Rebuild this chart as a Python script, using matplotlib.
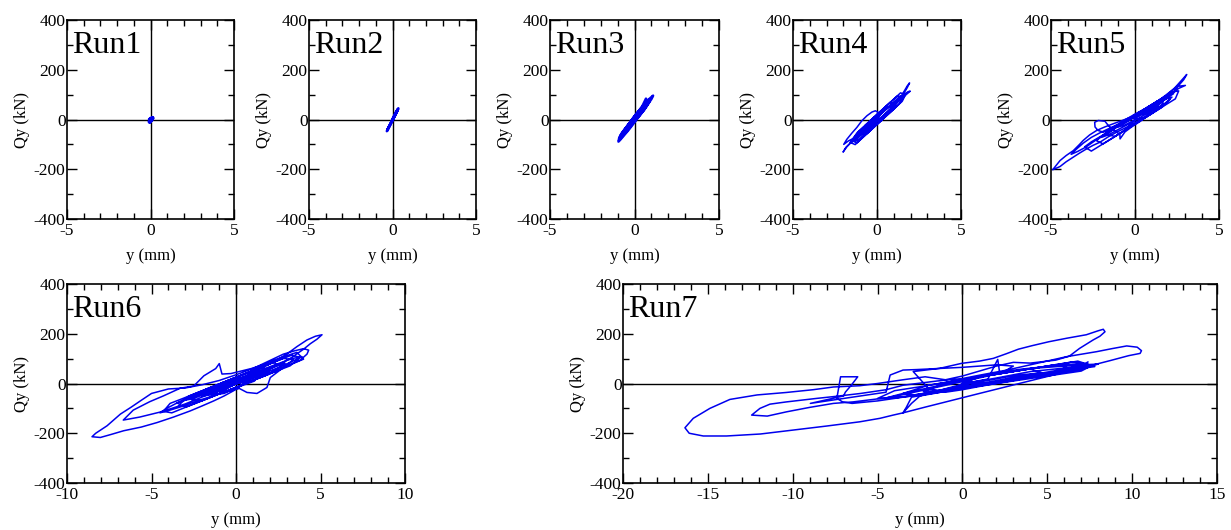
import numpy as np
import matplotlib.pyplot as plt
from matplotlib.ticker import MultipleLocator

plt.rcParams['font.family'] = ['Liberation Serif', 'DejaVu Serif']
plt.rcParams['axes.unicode_minus'] = False

# y (mm), Qy (kN) points
run1 = [(0, 0), (0.08, 4), (0.12, 6), (0.05, 0), (-0.03, -6), (-0.05, -9),
        (0, -3), (0.1, 5), (0.02, -2), (-0.04, -8), (0, 0)]

run2 = [(0, 2), (0.1, 16), (0.2, 30), (0.3, 40), (0.35, 45), (0.3, 36), (0.2, 22),
        (0.05, 2), (-0.1, -16), (-0.2, -28), (-0.3, -40), (-0.34, -47), (-0.3, -44),
        (-0.18, -28), (-0.05, -10), (0.1, 10), (0.22, 26), (0.33, 42), (0.28, 34),
        (0.12, 12), (-0.02, -4), (-0.15, -22), (-0.28, -38), (-0.32, -44), (-0.2, -26),
        (-0.05, -6), (0.08, 10), (0.2, 26), (0.3, 38), (0.25, 30), (0.1, 10), (0, 0)]

run3 = [(0, 5), (0.2, 8), (0.4, 25), (0.6, 42), (0.8, 62), (1.0, 82), (1.1, 96),
        (1.0, 90), (0.8, 78), (0.55, 58), (0.3, 38), (0.05, 18), (-0.2, -5),
        (-0.45, -28), (-0.7, -50), (-0.9, -72), (-0.95, -89), (-0.85, -82),
        (-0.6, -62), (-0.35, -42), (-0.1, -20), (0.1, -2), (0.35, 20), (0.6, 42),
        (0.75, 62), (0.68, 84), (0.45, 52), (0.2, 30), (-0.05, 8), (-0.3, -15),
        (-0.55, -38), (-0.8, -60), (-0.88, -78), (-0.7, -66), (-0.45, -46),
        (-0.2, -24), (0.0, -8), (0.25, 14), (0.5, 34), (0.7, 52), (0.9, 74),
        (0.85, 80), (0.6, 60), (0.35, 40), (0.1, 20), (-0.15, -2), (-0.4, -24),
        (-0.6, -42), (-0.75, -62), (-0.6, -55), (-0.35, -36), (-0.1, -14), (0.1, 2),
        (0.3, 20), (0.45, 36), (0.3, 30), (0.1, 14), (-0.1, -4), (-0.3, -22),
        (-0.5, -40), (-0.3, -30), (-0.05, -8), (0, 0)]

run4 = [(0, -5), (0.3, 8), (0.6, 25), (0.9, 45), (1.2, 70), (1.5, 100), (1.8, 135),
        (1.94, 147), (1.8, 128), (1.5, 94), (1.2, 74), (0.9, 62), (0.6, 45), (0.3, 28),
        (0.0, 10), (-0.3, -8), (-0.6, -28), (-0.9, -46), (-1.2, -68), (-1.5, -88),
        (-1.8, -110), (-2.02, -131), (-1.85, -112), (-1.6, -96), (-1.3, -80),
        (-1.0, -64), (-0.7, -48), (-0.4, -30), (-0.1, -12), (0.2, 5), (0.5, 22),
        (0.8, 40), (1.1, 60), (1.4, 80), (1.7, 98), (1.98, 114), (1.85, 112),
        (1.6, 100), (1.3, 84), (1.0, 66), (0.7, 50), (0.4, 32), (0.1, 14), (-0.2, -4),
        (-0.5, -22), (-0.8, -42), (-1.1, -60), (-1.4, -76), (-1.7, -86), (-1.98, -100),
        (-1.8, -80), (-1.5, -55), (-1.2, -32), (-0.9, -5), (-0.6, 15), (-0.3, 30),
        (-0.1, 35), (0.04, 30), (0.1, 2), (0.3, 12), (0.6, 30), (0.9, 50), (1.2, 72),
        (1.5, 96), (1.3, 90), (1.0, 70), (0.7, 52), (0.4, 34), (0.1, 14), (-0.2, -8),
        (-0.5, -28), (-0.8, -50), (-1.1, -72), (-1.3, -88), (-1.1, -82), (-0.8, -62),
        (-0.5, -42), (-0.2, -22), (0.1, -2), (0.4, 16), (0.7, 36), (1.0, 56),
        (1.3, 78), (1.1, 74), (0.8, 56), (0.5, 38), (0.2, 20), (-0.1, 0), (-0.4, -20),
        (-0.7, -40), (-0.9, -58), (-0.6, -46), (-0.3, -28), (0, -8),
        (0.5, 11), (1.0, 42), (1.5, 73), (1.7, 100), (1.4, 107), (0.9, 76), (0.4, 45),
        (-0.1, 14), (-0.6, -17), (-1.1, -48), (-1.5, -85), (-1.2, -94), (-0.7, -63),
        (-0.2, -32), (0.3, -1), (0.8, 30), (1.3, 61), (1.6, 92), (1.2, 94), (0.7, 63),
        (0.2, 32), (-0.3, 1), (-0.8, -30), (-1.2, -55), (-1.6, -92), (-1.3, -101),
        (-0.9, -76), (-0.4, -45), (0.1, -14), (0.6, 17), (1.1, 48), (0.8, 70),
        (0.3, 39), (-0.2, 8), (-0.7, -23), (-1.0, -60), (-0.6, -57), (-0.1, -26),
        (0.4, 5), (0.9, 48), (0.5, 51), (0, 20), (-0.5, -28), (-0.2, -32), (0, 0)]

run5 = [(0, 2), (0.3, 18), (0.8, 42), (1.3, 66), (1.8, 92), (2.3, 122), (2.7, 152),
        (3.08, 181), (2.9, 160), (2.68, 143), (2.28, 110), (1.88, 90), (1.29, 50),
        (0.69, 16), (0.2, -5), (-0.3, -24), (-0.7, -38), (-1.09, -51), (-1.6, -70),
        (-2.08, -91), (-2.5, -104), (-2.88, -118), (-3.3, -135), (-3.67, -151),
        (-4.1, -170), (-4.46, -189), (-4.9, -202), (-4.7, -185), (-4.46, -165),
        (-4.1, -145), (-3.67, -125), (-3.3, -100), (-3.08, -84), (-2.7, -62),
        (-2.28, -44), (-1.8, -30), (-1.29, -17), (-0.8, -5), (-0.3, 8), (0.2, 14),
        (0.7, 28), (1.2, 50), (1.7, 78), (2.2, 105), (2.6, 125), (3.0, 137),
        (2.48, 133), (2.1, 112), (1.6, 86), (1.1, 62), (0.6, 40), (0.1, 18),
        (-0.4, -2), (-0.9, -22), (-1.4, -42), (-1.9, -64), (-2.4, -86), (-2.9, -110),
        (-3.4, -128), (-3.8, -140), (-3.5, -120), (-3.08, -95), (-2.6, -72),
        (-2.1, -54), (-1.6, -38), (-1.1, -22), (-0.6, -6), (-0.1, 10), (0.4, 26),
        (0.9, 44), (1.4, 64), (1.9, 86), (2.3, 104), (2.0, 100), (1.5, 80), (1.0, 60),
        (0.5, 40), (0.0, 22), (-0.5, 2), (-1.0, -20), (-1.5, -40), (-1.88, -51),
        (-2.2, -44), (-2.38, -30), (-2.4, -11), (-2.18, -4), (-1.79, -7),
        (-1.59, -24), (-1.3, -40), (-0.9, -60), (-0.89, -78), (-0.6, -50),
        (-0.2, -30), (0.3, -8), (0.8, 16), (1.3, 40), (1.8, 66), (2.2, 90),
        (1.9, 84), (1.4, 64), (0.9, 44), (0.4, 26), (-0.1, 8), (-0.6, -12),
        (-1.1, -32), (-1.6, -54), (-2.0, -72), (-1.6, -62), (-1.1, -44), (-0.6, -26),
        (-0.1, -8), (0.4, 12), (0.9, 32), (1.4, 52), (1.0, 46), (0.5, 28), (0, 10),
        (-0.5, -10), (-1.0, -30), (-0.6, -22), (-0.2, -8), (0, 0),
        (0.6, 7), (1.2, 32), (1.8, 58), (2.4, 83), (2.6, 115), (2.2, 110), (1.6, 85),
        (1.0, 60), (0.4, 35), (-0.2, 10), (-0.8, -16), (-1.4, -41), (-2.0, -66),
        (-2.6, -90), (-3.0, -110), (-2.6, -127), (-2.0, -102), (-1.4, -77),
        (-0.8, -52), (-0.2, -26), (0.4, -1), (1.0, 24), (1.6, 49), (2.1, 82),
        (1.8, 94), (1.2, 68), (0.6, 43), (0, 18), (-0.6, -7), (-1.2, -32),
        (-1.8, -58), (-2.3, -85), (-1.9, -98), (-1.3, -73), (-0.7, -47), (-0.1, -22),
        (0.5, 3), (1.1, 28), (1.7, 66), (1.3, 73), (0.7, 47), (0.1, 22), (-0.5, -3),
        (-1.1, -28), (-1.7, -60), (-1.2, -68), (-0.6, -43), (0, 0)]

run6 = [(0, 0), (0.8, 40), (1.5, 62), (2.2, 85), (3.0, 118), (3.6, 148), (4.2, 175),
        (4.7, 190), (5.09, 196), (4.79, 178), (4.4, 160), (4.0, 138), (3.3, 105),
        (2.62, 78), (1.9, 55), (1.24, 38), (0.6, 5), (-0.14, -29), (-0.7, -50),
        (-1.32, -70), (-2.0, -90), (-2.7, -110), (-3.7, -135), (-4.67, -157),
        (-5.6, -175), (-6.65, -190), (-7.4, -205), (-8.03, -217), (-8.52, -214),
        (-8.3, -200), (-7.63, -170), (-6.84, -123), (-6.2, -95), (-5.66, -70),
        (-5.0, -40), (-4.0, -22), (-3.0, -18), (-2.0, -5), (-1.0, 12), (0.0, 35),
        (1.0, 60), (2.0, 92), (2.8, 118), (3.5, 132), (4.0, 140), (4.3, 134),
        (4.2, 118), (3.8, 94), (3.2, 76), (2.5, 56), (1.8, 38), (1.0, 20), (0.3, 5),
        (-0.5, -15), (-1.3, -35), (-2.2, -60), (-3.0, -82), (-3.8, -100),
        (-4.5, -115), (-5.1, -125), (-5.7, -135), (-6.67, -147), (-6.08, -107),
        (-5.1, -73), (-4.3, -50), (-3.3, -19), (-2.5, -10), (-1.9, 31), (-1.2, 60),
        (-0.99, 80), (-0.83, 38), (-0.3, 40), (0.3, 50), (0.9, 60), (1.6, 75),
        (2.3, 95), (3.0, 112), (3.6, 125), (4.0, 98), (3.5, 84), (2.8, 64),
        (2.03, 24), (1.83, -16), (1.24, -40), (0.65, -36), (0.2, -20), (-0.4, -30),
        (-1.0, -42), (-1.6, -55), (-2.3, -70), (-3.0, -88), (-3.8, -105),
        (-4.5, -118), (-4.1, -100), (-3.4, -75), (-2.6, -50), (-1.8, -30),
        (-1.0, -10), (-0.2, 10), (0.6, 28), (1.4, 45), (2.2, 65), (2.9, 82),
        (2.4, 75), (1.7, 55), (0.9, 35), (0.1, 15), (-0.7, -5), (-1.5, -25),
        (-2.3, -45), (-3.1, -68), (-2.6, -62), (-1.8, -42), (-1.0, -25), (-0.3, -8),
        (0.5, 12), (1.2, 28), (1.9, 45), (1.5, 42), (0.8, 25), (0.0, 8), (-0.8, -12),
        (-1.6, -32), (-2.4, -50), (-3.5, -80), (-2.8, -60), (-2.0, -38), (-1.2, -15),
        (-0.5, 5), (0.3, 25), (1.0, 42), (1.7, 60), (2.5, 80), (3.3, 100), (3.9, 108),
        (3.3, 88), (2.6, 66), (1.8, 46), (1.0, 28), (0.2, 10), (-0.6, -10),
        (-1.4, -32), (-2.0, -50), (-1.4, -45), (-0.7, -40), (-0.1, -20), (0.5, -5),
        (1.1, 10), (0.6, 12), (0.0, -2), (-0.6, -18), (-1.2, -35), (-0.8, -28),
        (-0.3, -12), (0, 0),
        (0.8, 7), (1.6, 28), (2.4, 50), (3.2, 71), (3.8, 105), (3.3, 114), (2.5, 93),
        (1.7, 71), (0.9, 49), (0.1, 28), (-0.7, 6), (-1.5, -16), (-2.3, -37),
        (-3.1, -59), (-3.9, -80), (-4.3, -112), (-3.8, -118), (-3.0, -96),
        (-2.2, -74), (-1.4, -53), (-0.6, -31), (0.2, -10), (1.0, 12), (1.8, 34),
        (2.6, 55), (3.4, 95), (2.8, 101), (2.0, 79), (1.2, 57), (0.4, 36), (-0.4, 14),
        (-1.2, -7), (-2.0, -29), (-2.8, -51), (-3.4, -88), (-2.9, -93), (-2.1, -72),
        (-1.3, -50), (-0.5, -29), (0.3, -7), (1.1, 15), (1.9, 36), (2.7, 72),
        (2.2, 84), (1.4, 63), (0.6, 41), (-0.2, 20), (-1.0, -2), (-1.8, -24),
        (-2.6, -66), (-2.0, -69), (-1.2, -47), (-0.4, -26), (0.4, -4), (1.2, 17),
        (2.0, 52), (1.5, 66), (0.7, 44), (-0.1, 22), (-0.9, 1), (-1.7, -42),
        (-1.0, -40), (-0.3, -10), (0, 0)]

run7 = [(0, 0), (1.0, 10), (2.0, 22), (3.0, 35), (4.0, 48), (5.0, 55), (6.0, 62),
        (7.0, 70), (7.4, 87), (7.2, 68), (6.0, 55), (5.0, 40), (4.0, 28), (3.0, 15),
        (2.0, 5), (1.0, -8), (0, -20), (-1.0, -32), (-2.0, -42), (-3.0, -55),
        (-3.3, -95), (-3.5, -118), (-3.0, -80), (-2.5, -50), (-1.5, -30), (-0.5, -12),
        (0.5, 5), (1.5, 18), (2.08, 97), (2.2, 40), (3.0, 50), (4.0, 60), (5.0, 65),
        (6.0, 70), (7.0, 75), (8.0, 78), (7.0, 60), (6.0, 50), (5.0, 38), (4.0, 25),
        (3.0, 12), (2.0, 0), (1.0, -12), (0.0, -25), (-1.0, -35), (-2.0, -20),
        (-2.9, 48), (-1.33, 61), (-0.05, 81), (1.0, 90), (1.82, 101), (2.6, 120),
        (3.3, 138), (4.1, 152), (5.1, 168), (6.15, 182), (7.3, 196), (8.0, 212),
        (8.3, 218), (8.4, 208), (8.1, 190), (7.7, 175), (6.9, 141), (6.3, 110),
        (5.5, 94), (4.0, 82), (3.0, 85), (2.0, 70), (1.0, 50), (0.0, 30), (-1.0, 15),
        (-2.2, 27), (-3.5, 15), (-5.0, 0), (-6.05, -9), (-7.6, -14), (-8.8, -25),
        (-10.37, -36), (-12.1, -46), (-13.7, -64), (-14.88, -100), (-15.86, -140),
        (-16.35, -178), (-16.1, -200), (-15.27, -211), (-13.9, -211), (-11.9, -203),
        (-9.96, -187), (-8.0, -171), (-6.05, -154), (-4.86, -140), (-4.08, -127),
        (-3.5, -118), (-2.2, -95), (-0.93, -73), (1.0, -40), (3.0, -6), (5.0, 28),
        (6.93, 61), (8.7, 92), (9.8, 112), (10.47, 121), (10.55, 132), (10.3, 146),
        (9.68, 151), (8.8, 140), (7.91, 128), (6.15, 108), (4.39, 81), (2.62, 54),
        (1.05, 34), (0, 20), (-1.5, 10), (-3.5, -7), (-4.5, -25), (-6.0, -40),
        (-7.5, -52), (-8.6, -60), (-10.37, -74), (-11.34, -83), (-11.93, -100),
        (-12.42, -127), (-11.5, -131), (-10.37, -114), (-9.0, -96), (-7.6, -80),
        (-6.45, -74), (-4.77, -60), (-3.0, -51), (-1.5, -35), (0, -15), (1.5, 0),
        (3.0, 15), (4.5, 30), (6.0, 45), (7.0, 55), (7.5, 68), (7.0, 50), (5.5, 35),
        (4.0, 20), (2.5, 5), (1.0, -10), (-0.5, -25), (-2.0, -40), (-3.5, -55),
        (-5.0, -70), (-6.5, -80), (-7.06, -74), (-7.4, -60), (-7.3, -20),
        (-7.18, 27), (-6.17, 27), (-6.55, -7), (-6.9, -35), (-7.0, -50),
        (-8.96, -80), (-7.5, -65), (-6.0, -50), (-4.5, -35), (-4.26, 34), (-3.5, 54),
        (-2.7, 56), (-1.5, 60), (0, 65), (1.0, 70), (2.0, 75), (3.0, 70), (2.5, 50),
        (1.5, 30), (0.5, 15), (-0.5, 0), (-1.5, -15), (-2.5, -30), (-3.5, -45),
        (-4.5, -58), (-3.5, -40), (-2.5, -25), (-1.5, -10), (-0.5, 5), (0.5, 20),
        (1.5, 35), (2.5, 48), (3.5, 58), (4.5, 65), (5.5, 72), (6.5, 78), (7.2, 80),
        (6.5, 65), (5.5, 52), (4.5, 40), (3.5, 28), (2.5, 15), (1.5, 2), (0.5, -12),
        (-0.5, -25), (-1.5, -38), (-2.5, -50), (-1.5, -30), (-0.5, -15), (0.5, 0),
        (1.5, 12), (2.5, 25), (3.5, 35), (4.5, 42), (3.5, 30), (2.5, 18), (1.5, 5),
        (0.5, -8), (-0.5, -18), (0, 0),
        (1.5, 2), (3.0, 18), (4.5, 35), (6.0, 51), (7.5, 75), (6.5, 87), (5.0, 70),
        (3.5, 54), (2.0, 37), (0.5, 21), (-1.0, 4), (-2.5, -13), (-4.0, -29),
        (-5.0, -60), (-4.0, -59), (-2.5, -42), (-1.0, -26), (0.5, -9), (2.0, 7),
        (3.5, 24), (5.0, 40), (6.5, 58), (5.5, 76), (4.0, 59), (2.5, 43), (1.0, 26),
        (-0.5, 10), (-2.0, -7), (-3.5, -40), (-2.8, -46), (-1.3, -29), (0.2, -13),
        (1.7, 4), (3.2, 20), (4.7, 37), (6.2, 53), (7.8, 68), (6.8, 90), (5.2, 72),
        (3.7, 56), (2.2, 39), (0.7, 23), (-0.8, 6), (-2.3, -32), (-1.0, -26),
        (0.5, -9), (2.0, 7), (3.5, 24), (5.0, 36), (4.0, 59), (2.5, 43), (1.0, 26),
        (0, 0)]

runs = [run1, run2, run3, run4, run5, run6, run7]
names = ['Run1', 'Run2', 'Run3', 'Run4', 'Run5', 'Run6', 'Run7']
xlims = [(-5, 5)] * 5 + [(-10, 10), (-20, 15)]

W, H = 1231, 530
# axes boxes in pixels: left, top, right, bottom
boxes = [(67, 20, 234, 219), (309, 20, 476, 219), (550, 20, 719, 219),
         (793, 20, 961, 219), (1051, 20, 1219, 219),
         (67, 284, 405, 483), (623, 284, 1217, 483)]

fig = plt.figure(figsize=(W / 100, H / 100), dpi=100)

for i, (data, name, xl, b) in enumerate(zip(runs, names, xlims, boxes)):
    l, t, r, bt = b
    ax = fig.add_axes([l / W, (H - bt) / H, (r - l) / W, (bt - t) / H])
    xs = [p[0] for p in data]
    qs = [p[1] for p in data]
    ax.axhline(0, color='black', lw=1.0, zorder=1)
    ax.axvline(0, color='black', lw=1.0, zorder=1)
    lw = 3.0 if i == 0 else (1.8 if i in (1, 2) else 1.1)
    ax.plot(xs, qs, color='#0000ee', lw=lw, zorder=2)
    ax.set_xlim(*xl)
    ax.set_ylim(-400, 400)
    ax.xaxis.set_major_locator(MultipleLocator(5))
    ax.xaxis.set_minor_locator(MultipleLocator(1))
    ax.yaxis.set_major_locator(MultipleLocator(200))
    ax.yaxis.set_minor_locator(MultipleLocator(100))
    ax.tick_params(which='both', direction='in', top=True, right=True,
                   labelsize=12.5, width=1.0)
    ax.tick_params(which='major', length=7)
    ax.tick_params(which='minor', length=4)
    ax.tick_params(axis='y', pad=1)
    ax.tick_params(axis='x', pad=3)
    for s in ax.spines.values():
        s.set_linewidth(1.2)
    ax.set_xlabel('y (mm)', fontsize=12, labelpad=6)
    ax.set_ylabel('Qy (kN)', fontsize=12, labelpad=3)
    ax.annotate(name, xy=(0, 1), xycoords='axes fraction', xytext=(4, -8),
                textcoords='offset points', ha='left', va='top', fontsize=23)

fig.savefig('out.png', dpi=100)
